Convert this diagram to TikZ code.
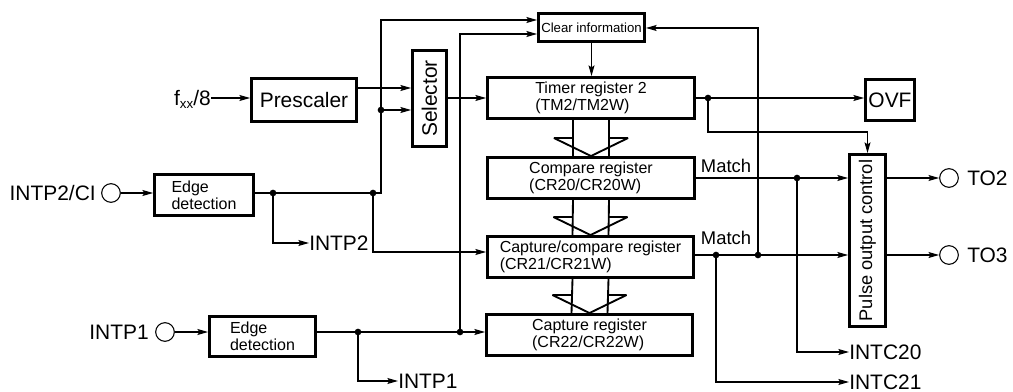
\documentclass[tikz,border=0pt]{standalone}
\usepackage{fontspec}
\setmainfont{Liberation Sans}
\usetikzlibrary{arrows.meta,calc}
\newcommand\hollowarr[2]{%
  \draw[hollow] ($(#1.south)+(-18,0)$) -- ($(#2.north)+(-18,0)$);
  \draw[hollow] ($(#1.south)+(18,0)$) -- ($(#2.north)+(18,0)$);
  \draw[hollow] ($(#2.north)+(-18,-18)$) -- ($(#2.north)+(-37,-18)$) -- (#2.north) -- ($(#2.north)+(37,-18)$) -- ($(#2.north)+(18,-18)$);
}
\begin{document}
\begin{tikzpicture}[x=0.75pt,y=-0.75pt,
  sz/.style 2 args={minimum width={(#1-3)*0.75pt},minimum height={(#2-3)*0.75pt}},
  box/.style={draw,line width=2.2pt,inner sep=0pt,align=left},
  ln/.style={line width=0.8pt},
  arr/.style={ln,-{Stealth[length=8pt,width=4.5pt,inset=1.5pt]}},
  dot/.style={circle,fill,inner sep=0pt,minimum size=5pt},
  pin/.style={circle,draw,line width=0.8pt,inner sep=0pt,minimum size=14pt},
  big/.style={font=\fontsize{15.7}{17}\selectfont},
  reg/.style={font=\fontsize{12}{12.8}\selectfont},
  lbl/.style={inner sep=0pt,text depth=0pt},
  hollow/.style={line width=1.4pt,line join=miter,miter limit=4}
]
\useasboundingbox (0,0) rectangle (1013,392);

% boxes
\node[box,sz={108}{46},big] (pre) at (304,100) {Prescaler};
\node[box,sz={37}{99}] (sel) at (429.5,98.5) {};
\node[big,rotate=90,inner sep=0pt] (selt) at (sel.center) {Selector};
\node[box,sz={109}{31},font=\fontsize{9.9}{11}\selectfont] (clr) at (591.5,27.5) {Clear information};
\node[box,sz={210}{44},reg] (tm) at (591,98) {Timer register 2\\(TM2/TM2W)};
\node[box,sz={210}{44},reg] (cr20) at (591,178) {Compare register\\(CR20/CR20W)};
\node[box,sz={209}{44},reg] (cr21) at (590.5,257) {Capture/compare register\\(CR21/CR21W)};
\node[box,sz={209}{44},reg] (cr22) at (589.5,335) {Capture register\\(CR22/CR22W)};
\node[box,sz={52}{44},big] (ovf) at (890,100) {OVF};
\node[box,sz={39}{175}] (poc) at (867.5,240.5) {};
\node[rotate=90,inner sep=0pt,font=\fontsize{13.7}{14}\selectfont] (poct) at (poc.center) {Pulse output control};
\node[box,sz={102}{44},reg] (ed1) at (204,195) {Edge\\detection};
\node[box,sz={109}{43},reg] (ed2) at (262.5,336.5) {Edge\\detection};

% pins and labels
\node[pin] (c1) at (111,193) {};
\node[big,lbl,anchor=east] (t1) at (96,193) {INTP2/CI};
\node[pin] (c2) at (165,332) {};
\node[big,lbl,anchor=east] (t2) at (149,332) {INTP1};
\node[big,lbl,anchor=west] (intp2) at (309,243) {INTP2};
\node[big,lbl,anchor=west] (intp1) at (398,381) {INTP1};
\node[big,lbl,anchor=west] (intc20) at (849,352) {INTC20};
\node[big,lbl,anchor=west] (intc21) at (849,382) {INTC21};
\node[pin] (o2) at (949,178) {};
\node[big,lbl,anchor=west] (to2) at (967,178) {TO2};
\node[pin] (o3) at (949,255) {};
\node[big,lbl,anchor=west] (to3) at (967,255) {TO3};
\node[lbl,font=\fontsize{13.8}{14}\selectfont] (m1) at (726,166) {Match};
\node[lbl,font=\fontsize{13.8}{14}\selectfont] (m2) at (726,238) {Match};
\node[big,lbl,anchor=east] (fxx) at (211,98) {f\raisebox{-0.3ex}{\fontsize{10}{10}\selectfont xx}/8};

% coordinates
\coordinate (p88) at (0,88);
\coordinate (p252) at (0,252);
\coordinate (j1) at (381,110);
\coordinate (j2) at (273,193);
\coordinate (j3) at (373,193);
\coordinate (k1) at (381,193);
\coordinate (k2) at (381,20);
\coordinate (j4) at (358,332);
\coordinate (j5) at (460,332);
\coordinate (k3) at (460,34);
\coordinate (j6) at (708,98);
\coordinate (k4) at (708,132);
\coordinate (j7) at (797,178);
\coordinate (j8) at (716,255);
\coordinate (j9) at (758,255);
\coordinate (k5) at (758,28);

% left connectors
\draw[arr] (fxx.east) -- (fxx.east -| pre.west);
\draw[arr] (pre.east |- p88) -- (sel.west |- p88);
\draw[arr] (j1) -- (j1 -| sel.west);
\draw[arr] (sel.east |- tm.west) -- (tm.west);
\draw[arr] (c1.east) -- (c1.east -| ed1.west);
\draw[arr] (ed1.east |- j2) -- (k1) -- (k2) -- (k2 -| clr.west);
\draw[arr] (j2) -- (j2 |- intp2.west) -- (intp2.west);
\draw[arr] (j3) -- (j3 |- p252) -- (cr21.west |- p252);
\draw[arr] (c2.east) -- (c2.east -| ed2.west);
\draw[arr] (ed2.east |- j4) -- (cr22.west |- j4);
\draw[arr] (j5) -- (k3) -- (k3 -| clr.west);
\draw[arr] (j4) -- (j4 |- intp1.west) -- (intp1.west);
\draw[arr] (clr.south) -- (clr.south |- tm.north);

% right connectors
\draw[arr] (tm.east |- j6) -- (ovf.west |- j6);
\draw[arr] (j6) -- (k4) -- (k4 -| poc.north) -- (poc.north);
\draw[arr] (cr20.east |- j7) -- (poc.west |- j7);
\draw[arr] (j7) -- (j7 |- intc20.west) -- (intc20.west);
\draw[arr] (cr21.east |- j8) -- (poc.west |- j8);
\draw[arr] (j9) -- (k5) -- (k5 -| clr.east);
\draw[arr] (j8) -- (j8 |- intc21.west) -- (intc21.west);
\draw[arr] (poc.east |- o2) -- (o2.west);
\draw[arr] (poc.east |- o3) -- (o3.west);

% dots
\foreach \p in {j1,j2,j3,j4,j5,j6,j7,j8,j9} \node[dot] at (\p) {};

% hollow transfer arrows
\hollowarr{tm}{cr20}
\hollowarr{cr20}{cr21}
\hollowarr{cr21}{cr22}
\end{tikzpicture}
\end{document}
